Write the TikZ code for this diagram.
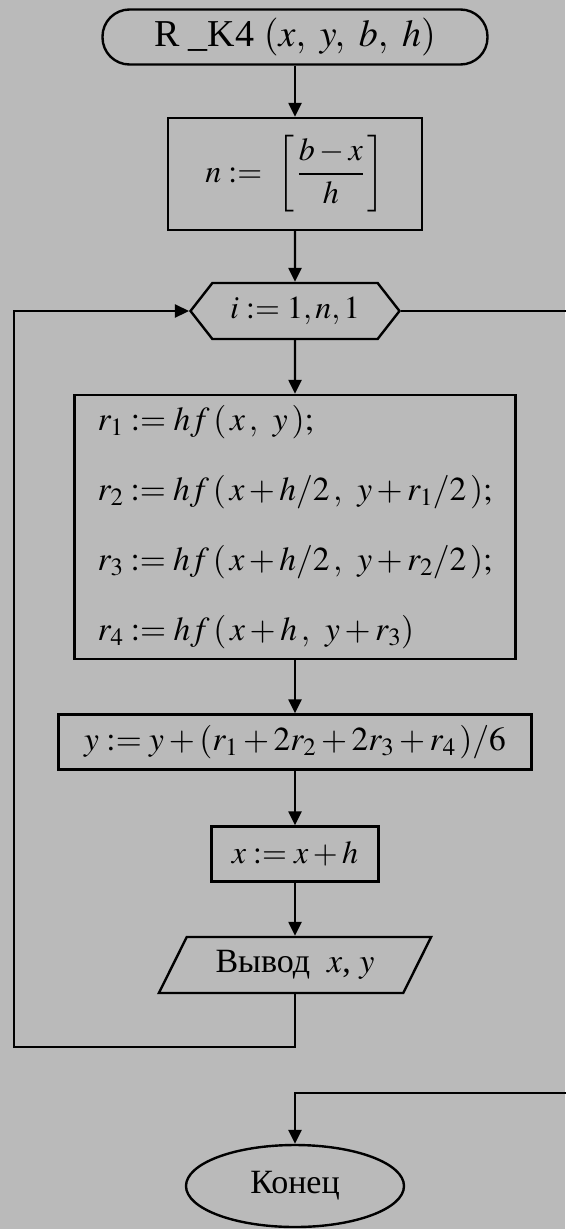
\documentclass[tikz,border=0pt]{standalone}
\usepackage{mathptmx}
\usepackage{fontspec}
\setmainfont{Liberation Serif}
\usetikzlibrary{arrows.meta,shapes.geometric,shapes.symbols}
\definecolor{scangray}{RGB}{186,186,186}
\begin{document}
\begin{tikzpicture}[x=1pt,y=-1pt,line width=2.4pt,>={Triangle[length=14pt,width=13pt]},
  every node/.style={font=\fontsize{32}{38}\selectfont},
  blk/.style={draw,rectangle,inner sep=0pt}]
\fill[scangray] (0,0) rectangle (565,1229);
\useasboundingbox (0,0) rectangle (565,1229);

\node[draw,rounded corners=27pt,minimum width=385pt,minimum height=55pt,font=\fontsize{38}{40}\selectfont] (start) at (295,37) {R\ \_K4 $(x,\ y,\ b,\ h)$};
\node[blk,minimum width=254pt,minimum height=112pt] (ncalc) at (295,174) {$n :=\ \left[\,\displaystyle\frac{b-x}{h}\,\right]$};
\node[draw,signal,signal to=west and east,signal pointer angle=104,minimum width=209pt,minimum height=56pt,inner sep=0pt] (cyc) at (295,311) {$i := 1, n, 1$};
\node[blk,minimum width=441pt,minimum height=264pt,text width=395pt,align=left,font=\fontsize{33.5}{70}\selectfont] (rk) at (295,527)
  {$r_1 := hf\,(\,x\,,\ y\,);$\\ $r_2 := hf\,(\,x + h/2\,,\ y + r_1/2\,);$\\ $r_3 := hf\,(\,x + h/2\,,\ y + r_2/2\,);$\\ $r_4 := hf\,(\,x + h\,,\ y + r_3)$};
\node[blk,minimum width=473pt,minimum height=55pt,font=\fontsize{33.5}{38}\selectfont] (ynew) at (295,742) {$y := y + (r_1 + 2r_2 + 2r_3 + r_4\,)/6$};
\node[blk,minimum width=167pt,minimum height=55pt] (xnew) at (295,854) {$x := x + h$};
\node[draw,trapezium,trapezium left angle=55,trapezium right angle=125,trapezium stretches,minimum width=273pt,minimum height=56pt,inner sep=0pt,font=\fontsize{34}{38}\selectfont] (out) at (295,965) {Вывод\ \ $x$,\ $y$};
\node[draw,ellipse,minimum width=218pt,minimum height=82pt,font=\fontsize{34}{38}\selectfont] (fin) at (295,1186) {Конец};

\draw[->] (start) -- (ncalc);
\draw[->] (ncalc) -- (cyc);
\draw[->] (cyc) -- (rk);
\draw[->] (rk) -- (ynew);
\draw[->] (ynew) -- (xnew);
\draw[->] (xnew) -- (out);
\draw[->] (out.south) |- (14,1047) |- (cyc.west);
\coordinate (ret) at (295,1093);
\draw[->] (cyc.east) -| (585,1093) -- (ret) -- (fin);
\end{tikzpicture}
\end{document}
